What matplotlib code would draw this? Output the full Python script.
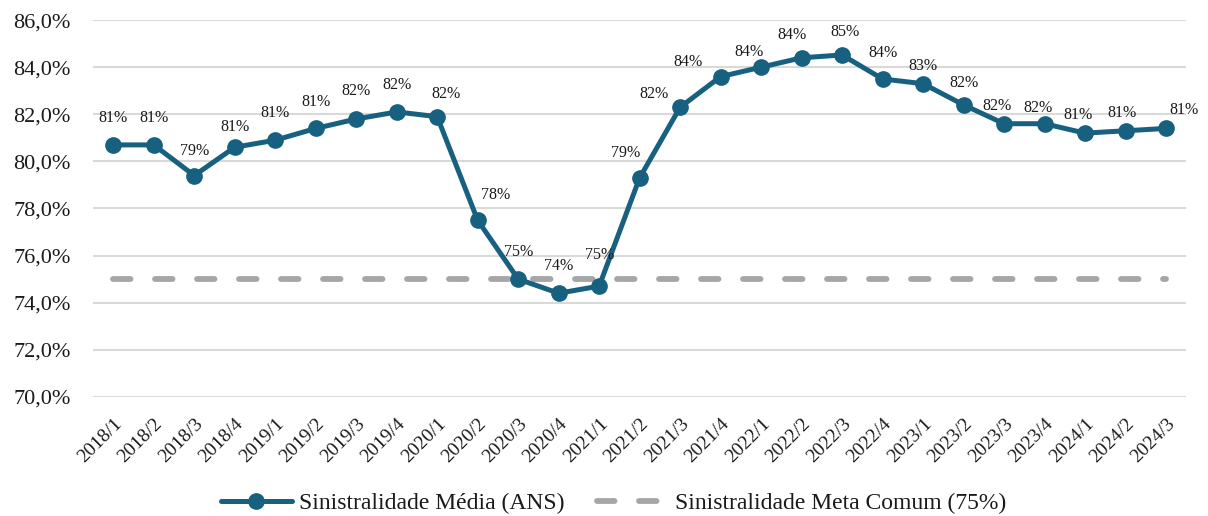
import matplotlib
matplotlib.use("Agg")
from matplotlib import pyplot as plt
from matplotlib.ticker import FuncFormatter

plt.rcParams['font.family'] = ['Liberation Serif', 'DejaVu Serif']

# ===================== 数据 =====================
quarters = ["2018/1", "2018/2", "2018/3", "2018/4",
            "2019/1", "2019/2", "2019/3", "2019/4",
            "2020/1", "2020/2", "2020/3", "2020/4",
            "2021/1", "2021/2", "2021/3", "2021/4",
            "2022/1", "2022/2", "2022/3", "2022/4",
            "2023/1", "2023/2", "2023/3", "2023/4",
            "2024/1", "2024/2", "2024/3"]
sinistralidade = [80.7, 80.7, 79.4, 80.6,
                  80.9, 81.4, 81.8, 82.1,
                  81.9, 77.5, 75.0, 74.4,
                  74.7, 79.3, 82.3, 83.6,
                  84.0, 84.4, 84.52, 83.5,
                  83.3, 82.4, 81.6, 81.6,
                  81.2, 81.3, 81.4]
meta = [75.0] * len(quarters)

# 标签偏移（像素）
label_offsets = [(0, 27), (0, 27), (0, 25), (0, 20),
                 (0, 27), (0, 26), (0, 28), (0, 27),
                 (9, 23), (18, 25), (0, 27), (0, 27),
                 (0, 31), (-14, 25), (-26, 13), (-33, 15),
                 (-12, 15), (-10, 23), (3, 23), (0, 26),
                 (0, 18), (0, 22), (-7, 18), (-7, 16),
                 (-7, 18), (-4, 18), (18, 18)]

BLUE = '#17607f'
GRAY = '#a6a6a6'
TXT = '#1a1a1a'

fig = plt.figure(figsize=(12.08, 5.16), dpi=100)
ax = fig.add_axes([0.077, 0.231, 0.905, 0.730])

x = list(range(len(quarters)))

# 目标线 75%
ax.plot(x, meta, color=GRAY, linewidth=4.2, dashes=(3.0, 4.2),
        dash_capstyle='round', label='Sinistralidade Meta Comum (75%)', zorder=2)
# 平均赔付率
ax.plot(x, sinistralidade, color=BLUE, linewidth=3.6, marker='o',
        markersize=11, solid_joinstyle='round', solid_capstyle='round',
        label='Sinistralidade Média (ANS)', zorder=3)

for xi, v, (dx, dy) in zip(x, sinistralidade, label_offsets):
    ax.annotate(f"{v:.0f}%", (xi, v), xytext=(dx, dy),
                textcoords='offset pixels', ha='center', va='center',
                fontsize=11.5, color=TXT)

ax.set_xlim(-0.5, len(quarters) - 0.5)
ax.set_ylim(70, 86)
ax.set_yticks(range(70, 87, 2))
ax.yaxis.set_major_formatter(FuncFormatter(lambda v, p: f"{v:.1f}%".replace('.', ',')))
ax.set_xticks(x)
ax.set_xticklabels(quarters, rotation=45, ha='right', rotation_mode='anchor')

ax.tick_params(axis='y', length=0, pad=16, labelsize=16, labelcolor=TXT)
ax.tick_params(axis='x', length=0, pad=13, labelsize=14, labelcolor=TXT)

ax.grid(axis='y', color='#d9d9d9', linewidth=1.5)
ax.set_axisbelow(True)
for s in ax.spines.values():
    s.set_visible(False)

handles, labels = ax.get_legend_handles_labels()
fig.legend(handles[::-1], labels[::-1], loc='center', bbox_to_anchor=(0.508, 0.025),
           ncol=2, frameon=False, fontsize=17, handlelength=3.0,
           handletextpad=0.3, columnspacing=1.4, labelcolor=TXT)

fig.savefig("out.png", dpi=100)
